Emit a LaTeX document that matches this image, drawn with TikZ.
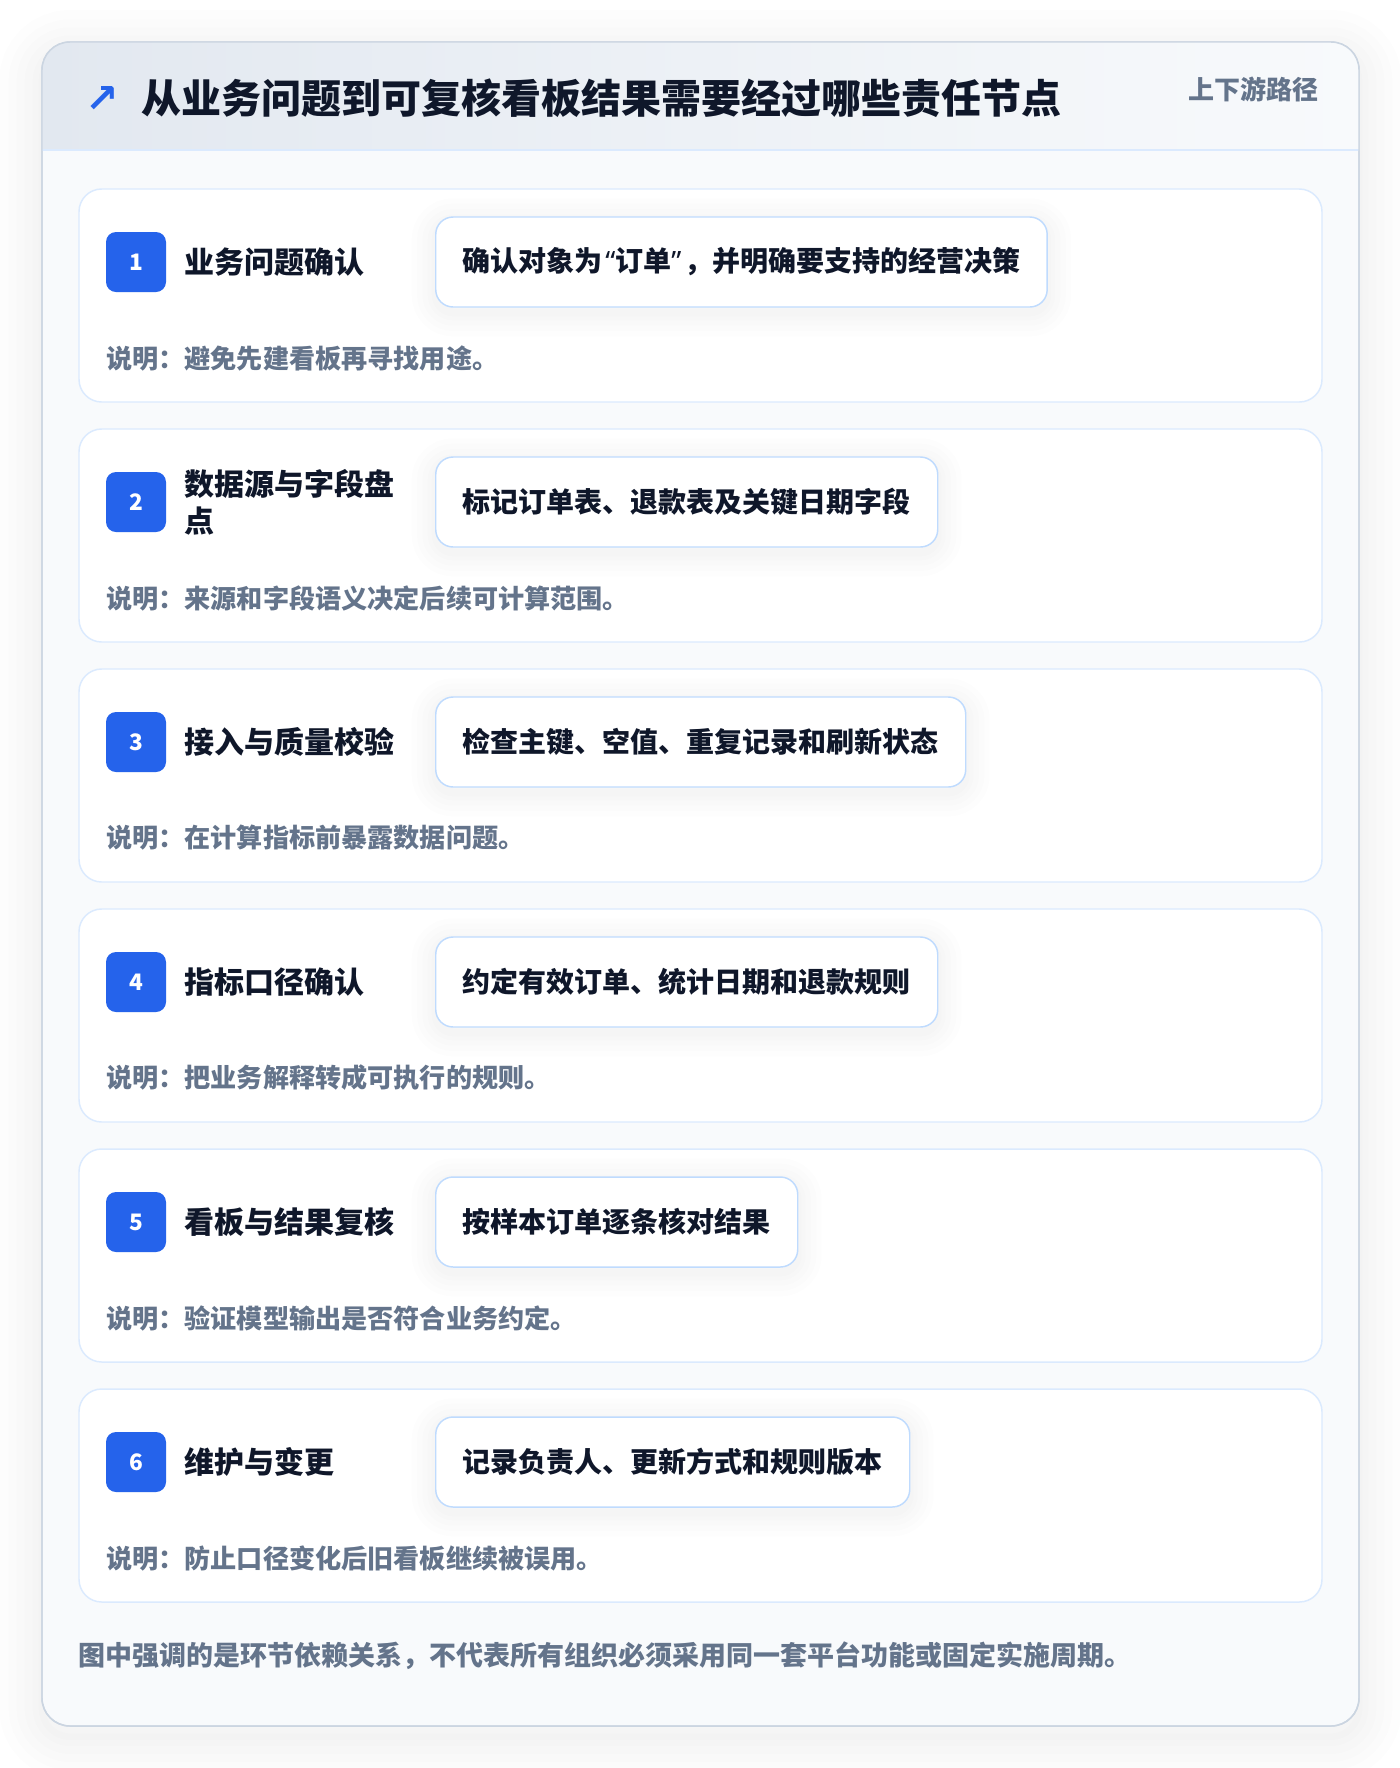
\documentclass[tikz,border=0pt]{standalone}
\usepackage{fontspec}
\setmainfont{Noto Sans CJK SC}
\newfontfamily\symfont{DejaVu Sans}
\newfontfamily\latinfont{Noto Sans}
\usetikzlibrary{positioning}

\definecolor{ink}{HTML}{0F172A}
\definecolor{muted}{HTML}{64748B}
\definecolor{accent}{HTML}{2563EB}
\definecolor{cardline}{HTML}{DBEAFE}
\definecolor{boxline}{HTML}{BFDBFE}
\definecolor{panel}{HTML}{F8FAFC}
\definecolor{frame}{HTML}{CBD5E1}
\definecolor{headleft}{HTML}{E2E8F0}

\newcommand\headfont{\fontsize{30pt}{34pt}\selectfont\bfseries}
\newcommand\stepfont{\fontsize{22.5pt}{27.75pt}\selectfont\bfseries}
\newcommand\boxfont{\fontsize{21pt}{26pt}\selectfont\bfseries}
\newcommand\badgefont{\fontsize{17pt}{18pt}\selectfont\bfseries}
\newcommand\notefont{\fontsize{19.6pt}{22pt}\selectfont\bfseries}
\newcommand\footfont{\fontsize{20.25pt}{24pt}\selectfont\bfseries}
\newcommand\openq{{\latinfont\bfseries\kern2pt“}}
\newcommand\closeq{{\latinfont\bfseries ”\kern2pt}}

\begin{document}
\begin{tikzpicture}[x=0.75pt,y=-0.75pt,
  softshade/.style 2 args={preaction={draw=black,opacity=0.008,line width=#1,transform canvas={yshift=#2}}},
  boxshadow/.style={softshade={36pt}{-4pt},softshade={28pt}{-4pt},softshade={20pt}{-4pt},softshade={12pt}{-4pt},softshade={6pt}{-4pt}},
  panelshadow/.style={softshade={64pt}{-8pt},softshade={50pt}{-8pt},softshade={38pt}{-8pt},softshade={26pt}{-8pt},softshade={14pt}{-8pt},softshade={5pt}{-8pt}},
  stepcard/.style={draw=cardline,fill=white,line width=1.1pt,rounded corners=17pt},
  badge/.style={fill=accent,text=white,rounded corners=7.5pt,minimum size=45pt,inner sep=0pt,font=\badgefont},
  steptitle/.style={text=ink,align=left,inner sep=0pt,font=\stepfont},
  detail/.style={draw=boxline,fill=white,line width=1.1pt,rounded corners=13pt,boxshadow,
    minimum height=67.5pt,inner xsep=20.25pt,inner ysep=0pt,text=ink,font=\boxfont},
  note/.style={text=muted,inner sep=0pt,font=\notefont}]
  \useasboundingbox (0,0) rectangle (1400,1768);
  \fill[white] (0,0) rectangle (1400,1768);

  % outer panel
  \draw[fill=panel,draw=frame,line width=1.1pt,rounded corners=21pt,panelshadow]
    (42,42) rectangle (1359,1726);
  \begin{scope}
    \clip[rounded corners=21pt] (42,42) rectangle (1359,1726);
    \shade[left color=headleft,right color=panel] (42,42) rectangle (1359,150);
  \end{scope}
  \draw[cardline,line width=1.5pt] (42,150) -- (1359,150);
  \draw[frame,line width=1.1pt,rounded corners=21pt] (42,42) rectangle (1359,1726);

  % header
  \node[text=accent,inner sep=0pt,font=\symfont\bfseries\fontsize{30pt}{30pt}\selectfont] (icon) at (102,99) {↗};
  \node[anchor=west,text=ink,inner sep=0pt,font=\headfont] (heading) at (141,98)
    {从业务问题到可复核看板结果需要经过哪些责任节点};
  \node[anchor=east,text=muted,inner sep=0pt,font=\fontsize{19.5pt}{22pt}\selectfont\bfseries] (tag) at (1319,89)
    {上下游路径};

  % steps
  \foreach \i/\ttl/\dtl/\nt [evaluate=\i as \rowy using 189+240*(\i-1)] in {
    1/{业务问题确认}/{确认对象为\openq 订单\closeq ，并明确要支持的经营决策}/{说明：避免先建看板再寻找用途。},
    2/{数据源与字段盘\\点}/{标记订单表、退款表及关键日期字段}/{说明：来源和字段语义决定后续可计算范围。},
    3/{接入与质量校验}/{检查主键、空值、重复记录和刷新状态}/{说明：在计算指标前暴露数据问题。},
    4/{指标口径确认}/{约定有效订单、统计日期和退款规则}/{说明：把业务解释转成可执行的规则。},
    5/{看板与结果复核}/{按样本订单逐条核对结果}/{说明：验证模型输出是否符合业务约定。},
    6/{维护与变更}/{记录负责人、更新方式和规则版本}/{说明：防止口径变化后旧看板继续被误用。}} {
    \draw[stepcard] (79,\rowy) rectangle (1322,\rowy+213);
    \node[badge] (badge\i) at (136,\rowy+73) {\i};
    \node[steptitle,anchor=west,right=13.5pt of badge\i] (title\i) {\ttl};
    \node[detail,anchor=west] (detail\i) at (435,\rowy+73) {\dtl};
    \node[note,anchor=west] (note\i) at (106,\rowy+169) {\nt};
  }

  % footer
  \node[anchor=west,text=muted,inner sep=0pt,font=\footfont] (foot) at (78,1656)
    {图中强调的是环节依赖关系，不代表所有组织必须采用同一套平台功能或固定实施周期。};
\end{tikzpicture}
\end{document}
